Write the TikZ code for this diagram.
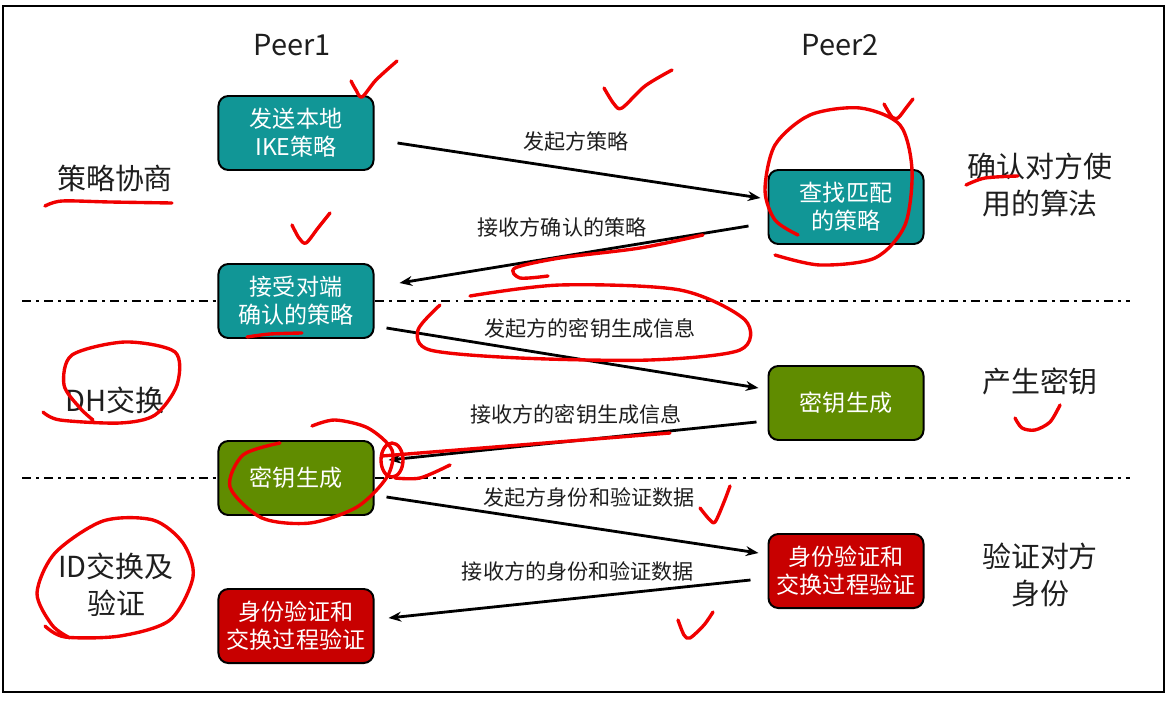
\documentclass[tikz,border=0pt]{standalone}
\usepackage{fontspec}
\setmainfont{Noto Sans CJK SC}
\usetikzlibrary{arrows.meta}
\definecolor{boxteal}{RGB}{17,150,150}
\definecolor{boxgreen}{RGB}{96,140,0}
\definecolor{boxred}{RGB}{200,0,0}
\definecolor{inkred}{RGB}{240,0,0}
\definecolor{labelgray}{RGB}{30,30,30}
\tikzset{
  stagebox/.style={draw=black, line width=1.4pt, rounded corners=7pt,
    minimum width=3.875cm, minimum height=1.85cm, text=white, align=center,
    font=\fontsize{16.4}{20}\selectfont},
  tealbox/.style={stagebox, fill=boxteal},
  greenbox/.style={stagebox, fill=boxgreen},
  redbox/.style={stagebox, fill=boxred},
  msg/.style={-{Stealth[length=9pt, width=7pt]}, line width=2pt},
  msglabel/.style={text=labelgray, font=\fontsize{15}{18}\selectfont},
  phase/.style={text=labelgray, align=center, font=\fontsize{20.6}{26}\selectfont},
  divider/.style={line width=2pt, dash pattern=on 6.4pt off 3.6pt on 2.1pt off 3.6pt},
  scribble/.style={inkred, line width=2.4pt, line cap=round, line join=round},
}
\begin{document}
\begin{tikzpicture}[x=0.025cm, y=-0.025cm]
    \useasboundingbox (0, 0) rectangle (1169, 702);
    \draw[line width=1.4pt](3, 6) rectangle (1164, 692);

    \node[phase] at(292, 45)(peer1){Peer1};
    \node[phase] at(840, 45)(peer2){Peer2};

    %%phase dividers
    \draw[divider](22, 301) to (1130, 301);
    \draw[divider](22, 478) to (1130, 478);

    %%left column
    \node[phase] at(115, 178)(policy){策略协商};
    \node[phase] at(115, 400)(dh){DH交换};
    \node[phase] at(116, 585)(idx){ID交换及\\验证};

    %%right column
    \node[phase] at(1040, 185)(algo){确认对方使\\用的算法};
    \node[phase] at(1040, 381)(genkey){产生密钥};
    \node[phase] at(1040, 575)(verify){验证对方\\身份};

    %%boxes
    \node[tealbox] at(296, 133)(send){发送本地\\IKE策略};
    \node[tealbox] at(846, 207)(match){查找匹配\\的策略};
    \node[tealbox] at(296, 301)(accept){接受对端\\确认的策略};
    \node[greenbox] at(846, 403)(keyR){密钥生成};
    \node[greenbox] at(296, 478)(keyL){密钥生成};
    \node[redbox] at(846, 571)(idR){身份验证和\\交换过程验证};
    \node[redbox] at(296, 626)(idL){身份验证和\\交换过程验证};

    %%messages
    \draw[msg]([shift={(23, 10)}]send.east) to ([shift={(-7, -9)}]match.west);
    \node[msglabel] at(576, 142)(m1){发起方策略};
    \draw[msg]([shift={(-19, 19)}]match.west) to ([shift={(25, -18)}]accept.east);
    \node[msglabel] at(562, 227)(m2){接收方确认的策略};
    \draw[msg]([shift={(12, 27)}]accept.east) to ([shift={(-9, -15)}]keyR.west);
    \node[msglabel] at(590, 328)(m3){发起方的密钥生成信息};
    \draw[msg]([shift={(-11, 19)}]keyR.west) to ([shift={(14, -18)}]keyL.east);
    \node[msglabel] at(576, 414)(m4){接收方的密钥生成信息};
    \draw[msg]([shift={(12, 19)}]keyL.east) to ([shift={(-9, -18)}]idR.west);
    \node[msglabel] at(589, 497)(m5){发起方身份和验证数据};
    \draw[msg]([shift={(-17, 9)}]idR.west) to ([shift={(14, -8)}]idL.east);
    \node[msglabel] at(578, 571)(m6){接收方的身份和验证数据};

    %%red pen marks
    \draw[scribble] plot[smooth] coordinates {(351, 81) (356, 90) (362, 97) (376, 80) (397, 61)};
    \draw[scribble] plot[smooth] coordinates {(604, 88) (614, 104) (622, 108) (645, 86) (672, 70)};
    \draw[scribble] plot[smooth] coordinates {(884, 104) (892, 117) (898, 118) (906, 108) (913, 99)};
    \draw[scribble] plot[smooth] coordinates {(798, 235) (775, 220) (765, 190) (775, 145) (810, 115) (860, 108)
        (900, 125) (912, 170) (905, 225) (875, 258) (820, 265) (775, 255)};
    \draw[scribble] plot[smooth] coordinates {(45, 206) (62, 201) (110, 202) (172, 203)};
    \draw[scribble] plot[smooth] coordinates {(292, 225) (299, 238) (306, 243) (318, 228) (330, 213)};
    \draw[scribble] plot[smooth] coordinates {(703, 235) (640, 248) (560, 258) (515, 268) (520, 278) (548, 276)};
    \draw[scribble] plot[smooth] coordinates {(470, 296) (560, 285) (680, 290) (745, 320) (740, 350) (650, 360)
        (520, 358) (430, 350) (418, 330) (440, 305)};
    \draw[scribble] plot[smooth] coordinates {(247, 337) (270, 334) (302, 333)};
    \draw[scribble] plot[smooth] coordinates {(43, 412) (60, 420) (120, 423) (155, 415) (177, 385) (175, 352)
        (125, 342) (72, 355) (64, 385) (80, 408) (93, 420)};
    \draw[scribble] plot[smooth] coordinates {(966, 185) (985, 178) (1018, 176)};
    \draw[scribble] plot[smooth] coordinates {(1015, 418) (1022, 428) (1035, 430) (1050, 422) (1060, 405)};
    \draw[scribble] plot[smooth] coordinates {(280, 443) (243, 455) (230, 487) (262, 518) (310, 523) (357, 507)
        (387, 477) (392, 450) (368, 428) (335, 420) (312, 426)};
    \draw[scribble](392, 460) ellipse (11 and 17);
    \draw[scribble] plot[smooth] coordinates {(395, 478) (420, 478) (450, 465)};
    \draw[scribble](382, 456) to (670, 433);
    \draw[scribble] plot[smooth] coordinates {(700, 508) (709, 519) (715, 522) (724, 502) (730, 486)};
    \draw[scribble] plot[smooth] coordinates {(678, 620) (684, 635) (690, 638) (704, 625) (713, 612)};
    \draw[scribble] plot[smooth] coordinates {(45, 626) (65, 637) (120, 636) (170, 620) (193, 577) (183, 543)
        (153, 520) (103, 521) (55, 553) (37, 593) (52, 625) (70, 638)};
\end{tikzpicture}
\end{document}
